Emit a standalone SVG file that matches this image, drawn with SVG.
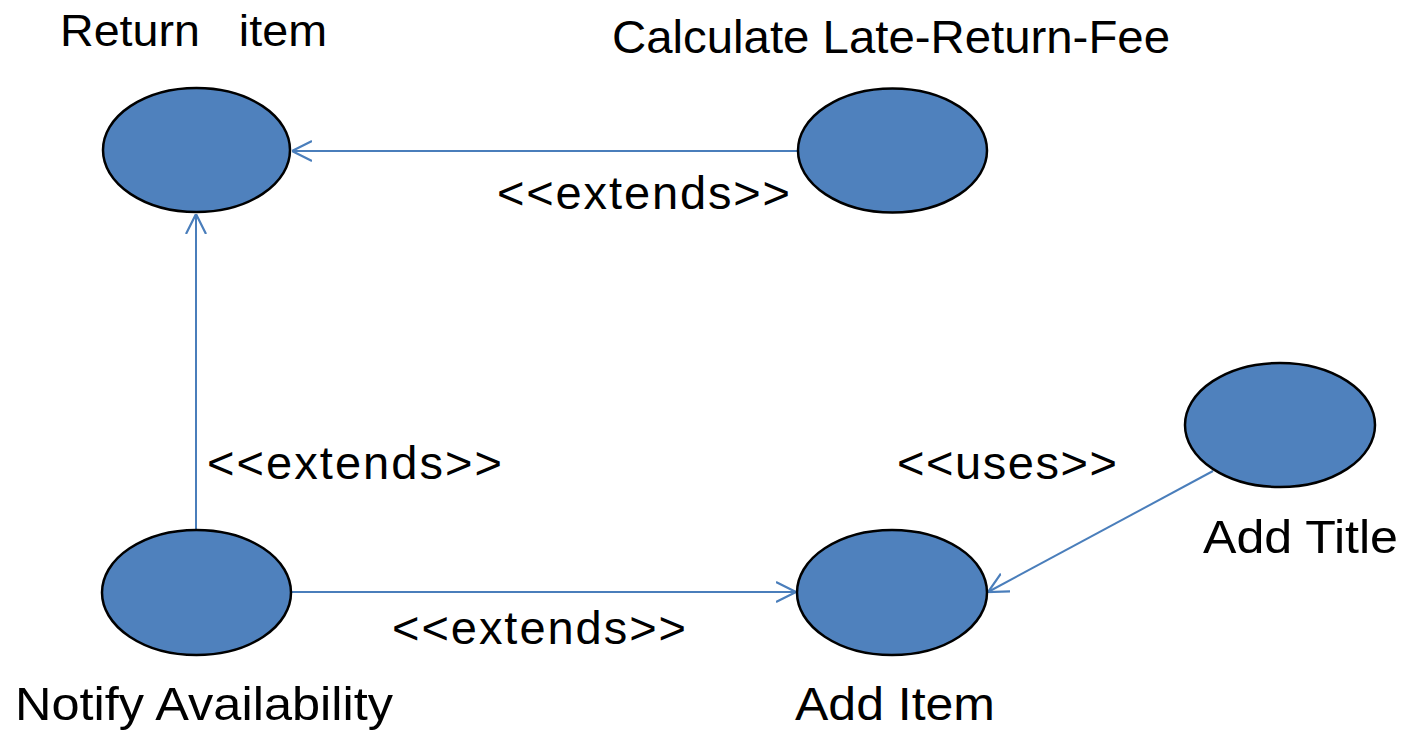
<svg xmlns="http://www.w3.org/2000/svg" width="1407" height="732" viewBox="0 0 1407 732">
<style>
.uc{fill:#4f81bd;stroke:#000;stroke-width:2.5}
.lbl{font-family:"Liberation Sans",Arial,sans-serif;font-size:46px;fill:#000}
.st{font-family:"Liberation Sans",Arial,sans-serif;font-size:47px;fill:#000}
.cn{stroke:#4a7ebb;stroke-width:2;fill:none}
</style>
<defs>
<marker id="open" viewBox="0 0 20 22" refX="20" refY="11" markerWidth="20" markerHeight="22" markerUnits="userSpaceOnUse" orient="auto">
<path d="M0,1 L20,11 L0,21" fill="none" stroke="#4a7ebb" stroke-width="2.2"/>
</marker>
</defs>
<rect width="1407" height="732" fill="#fff"/>
<g id="connectors">
<line class="cn" x1="798" y1="151" x2="292" y2="151" marker-end="url(#open)"/>
<line class="cn" x1="196" y1="530" x2="196" y2="214" marker-end="url(#open)"/>
<line class="cn" x1="291" y1="592" x2="796" y2="592" marker-end="url(#open)"/>
<line class="cn" x1="1213" y1="471" x2="988" y2="592" marker-end="url(#open)"/>
<text class="st" x="497" y="209" textLength="293" lengthAdjust="spacing">&lt;&lt;extends&gt;&gt;</text>
<text class="st" x="207" y="479" textLength="295" lengthAdjust="spacing">&lt;&lt;extends&gt;&gt;</text>
<text class="st" x="897" y="479" textLength="220" lengthAdjust="spacing">&lt;&lt;uses&gt;&gt;</text>
<text class="st" x="392" y="644" textLength="294" lengthAdjust="spacing">&lt;&lt;extends&gt;&gt;</text>
</g>
<g id="return-item">
<ellipse class="uc" cx="196.5" cy="150" rx="93.5" ry="62"/>
<text class="lbl" x="60" y="46" style="font-size:44px" textLength="267" lengthAdjust="spacingAndGlyphs" xml:space="preserve">Return   item</text>
</g>
<g id="calculate-fee">
<ellipse class="uc" cx="892.5" cy="150.5" rx="94.5" ry="62"/>
<text class="lbl" x="612" y="53" textLength="558" lengthAdjust="spacingAndGlyphs">Calculate Late-Return-Fee</text>
</g>
<g id="notify-availability">
<ellipse class="uc" cx="196.5" cy="592.5" rx="94.5" ry="62.5"/>
<text class="lbl" x="15" y="720" textLength="378" lengthAdjust="spacingAndGlyphs">Notify Availability</text>
</g>
<g id="add-item">
<ellipse class="uc" cx="892" cy="592.5" rx="95" ry="62.5"/>
<text class="lbl" x="795" y="720" textLength="200" lengthAdjust="spacingAndGlyphs">Add Item</text>
</g>
<g id="add-title">
<ellipse class="uc" cx="1280" cy="425" rx="95" ry="62"/>
<text class="lbl" x="1203" y="553" textLength="195" lengthAdjust="spacingAndGlyphs">Add Title</text>
</g>
</svg>
